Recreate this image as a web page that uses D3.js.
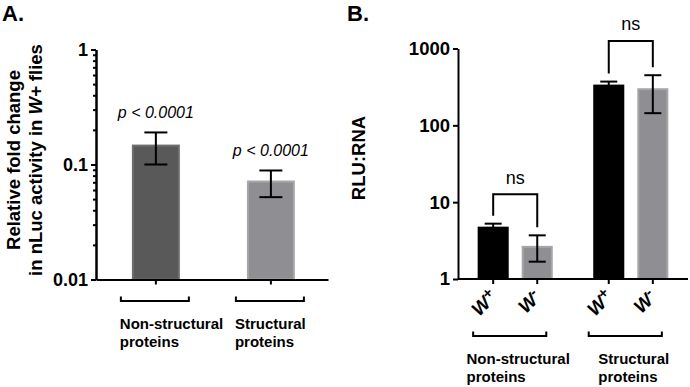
<!DOCTYPE html>
<html lang="en">
<head>
<meta charset="UTF-8" />
<title>nLuc activity – W+ vs W-</title>
<script src="https://d3js.org/d3.v7.min.js"></script>
<style>
  body { margin: 0; background: #fff; }
  svg { display: block; background: #fff; font-family: "Liberation Sans", Arial, Helvetica, sans-serif; }
  .axis path, .axis line { stroke: #000; stroke-width: 2; }
  .axis text { font-weight: bold; fill: #000; }
</style>
</head>
<body>
<svg width="690" height="387"></svg>
<script>
// ---- Panel A data ----
const catsA = ['Non-structural', 'Structural'];
const meanA = [0.149, 0.0726];
const errHiA = [0.19, 0.0887];
const errLoA = [0.10, 0.052];
const pLabelA = ['p < 0.0001', 'p < 0.0001'];
const ticksA = [0.01, 0.1, 1];
const tickLabelsA = ['0.01', '0.1', '1'];

// ---- Panel B data ----
const groupsB = ['Non-structural', 'Structural'];
const strainsB = ['W+', 'W-'];
const meanB = [[4.8, 2.7], [339, 304]];
const errHiB = [[5.25, 3.7], [371, 449]];
const errLoB = [[4.4, 1.68], [310, 144]];
const nsLevelB = [12.7, 1256];
const ticksB = [1, 10, 100, 1000];

const svg = d3.select('svg');

// ================= Panel A =================
const yA = d3.scaleLog().domain([0.01, 1]).range([279.5, 49.5]);
const xA = d3.scaleBand().domain(catsA).range([96, 328])
  .paddingInner(0.583).paddingOuter(0.3).align(0.52);
const colA = ['#595959', '#8e8e93'];
const edgeA = ['#6e6e6e', '#a8a8a8'];

svg.append('text').attr('x', 2).attr('y', 21)
  .attr('font-size', 22).attr('font-weight', 'bold').text('A.');

// bars
catsA.forEach((c, i) => {
  const x0 = xA(c), w = xA.bandwidth();
  svg.append('rect')
    .attr('x', x0 + 1).attr('y', yA(meanA[i]) + 1)
    .attr('width', w - 2).attr('height', yA(0.01) - yA(meanA[i]) - 1)
    .attr('fill', colA[i]).attr('stroke', edgeA[i]).attr('stroke-width', 2);
  const cx = x0 + w / 2;
  const eb = svg.append('g').attr('stroke', '#000').attr('stroke-width', 2);
  eb.append('line').attr('x1', cx).attr('x2', cx).attr('y1', yA(errHiA[i])).attr('y2', yA(errLoA[i]));
  eb.append('line').attr('x1', cx - 11.5).attr('x2', cx + 11.5).attr('y1', yA(errHiA[i])).attr('y2', yA(errHiA[i]));
  eb.append('line').attr('x1', cx - 11.5).attr('x2', cx + 11.5).attr('y1', yA(errLoA[i])).attr('y2', yA(errLoA[i]));
  svg.append('text').attr('x', cx).attr('y', yA(errHiA[i]) - 14)
    .attr('text-anchor', 'middle').attr('font-size', 16).attr('font-style', 'italic')
    .text(pLabelA[i]);
  // bracket + label under axis
  svg.append('path')
    .attr('d', `M${cx - 35},296.5V301H${cx + 33}V296.5`)
    .attr('fill', 'none').attr('stroke', '#000').attr('stroke-width', 2);
  const t = svg.append('text').attr('x', cx - 36).attr('y', 329)
    .attr('font-size', 15).attr('font-weight', 'bold');
  t.append('tspan').attr('x', cx - 36).text(c);
  t.append('tspan').attr('x', cx - 36).attr('dy', 17.5).text('proteins');
});

// y axis A with minor ticks
const minorA = [];
[0.01, 0.1].forEach(d => { for (let k = 2; k <= 9; k++) minorA.push(d * k); });
svg.append('g').attr('class', 'axis').attr('transform', 'translate(96,0)')
  .call(d3.axisLeft(yA).tickValues(minorA).tickSize(3).tickFormat('').tickSizeOuter(0));
svg.append('g').attr('class', 'axis').attr('transform', 'translate(96,0)')
  .call(d3.axisLeft(yA).tickValues(ticksA).tickSize(5).tickPadding(3).tickSizeOuter(0)
    .tickFormat((d, i) => tickLabelsA[i]))
  .selectAll('text').attr('font-size', 18);
svg.append('g').attr('class', 'axis').attr('transform', 'translate(0,279.5)')
  .call(d3.axisBottom(xA).tickSize(5).tickSizeOuter(0).tickFormat(''));

// y label A
const labA = svg.append('text').attr('transform', 'translate(0,160) rotate(-90)')
  .attr('text-anchor', 'middle').attr('font-size', 18.5).attr('font-weight', 'bold');
labA.append('tspan').attr('x', 0).attr('y', 19.5).text('Relative fold change');
const l2 = labA.append('tspan').attr('x', 0).attr('y', 41.5);
l2.append('tspan').text('in nLuc activity in ');
l2.append('tspan').attr('font-style', 'italic').text('W+');
l2.append('tspan').text('  flies');

// ================= Panel B =================
const yB = d3.scaleLog().domain([1, 1000]).range([279, 48.5]);
const xB = d3.scaleBand().domain(groupsB).range([458, 688])
  .paddingInner(0.35).paddingOuter(0.17);
const xBi = d3.scaleBand().domain(strainsB).range([0, xB.bandwidth()])
  .paddingInner(0.295).paddingOuter(0);
const colB = ['#000000', '#8e8e93'];
const edgeB = ['#000000', '#a6a6a6'];

svg.append('text').attr('x', 347).attr('y', 21)
  .attr('font-size', 22).attr('font-weight', 'bold').text('B.');

groupsB.forEach((g, gi) => {
  const gx = xB(g);
  const centers = [];
  strainsB.forEach((s, si) => {
    const x0 = gx + xBi(s), w = xBi.bandwidth();
    const cx = x0 + w / 2;
    centers.push(cx);
    const v = meanB[gi][si];
    svg.append('rect')
      .attr('x', x0 + 1).attr('y', yB(v) + 1)
      .attr('width', w - 2).attr('height', yB(1) - yB(v) - 1)
      .attr('fill', colB[si]).attr('stroke', edgeB[si]).attr('stroke-width', 2);
    const eb = svg.append('g').attr('stroke', '#000').attr('stroke-width', 2);
    eb.append('line').attr('x1', cx).attr('x2', cx).attr('y1', yB(errHiB[gi][si])).attr('y2', yB(errLoB[gi][si]));
    eb.append('line').attr('x1', cx - 8.5).attr('x2', cx + 8.5).attr('y1', yB(errHiB[gi][si])).attr('y2', yB(errHiB[gi][si]));
    eb.append('line').attr('x1', cx - 8.5).attr('x2', cx + 8.5).attr('y1', yB(errLoB[gi][si])).attr('y2', yB(errLoB[gi][si]));
    // rotated strain label
    const lt = svg.append('text')
      .attr('transform', `translate(${cx + 5},298) rotate(-45)`)
      .attr('text-anchor', 'end').attr('font-size', 19)
      .attr('font-weight', 'bold').attr('font-style', 'italic');
    lt.append('tspan').text(s[0]);
    lt.append('tspan').attr('font-size', 15).attr('dy', -6).text(s.slice(1));
  });
  // ns bracket
  const top = yB(nsLevelB[gi]);
  const leg0 = yB(errHiB[gi][0]) - 8, leg1 = yB(errHiB[gi][1]) - 8;
  svg.append('path')
    .attr('d', `M${centers[0]},${leg0}V${top}H${centers[1]}V${leg1}`)
    .attr('fill', 'none').attr('stroke', '#000').attr('stroke-width', 2);
  svg.append('text').attr('x', (centers[0] + centers[1]) / 2).attr('y', top - 10.5)
    .attr('text-anchor', 'middle').attr('font-size', 18).text('ns');
  // group bracket + label
  const gw = xB.bandwidth();
  svg.append('path')
    .attr('d', `M${gx - 4.5},331.5V336H${gx + gw - 6.5}V331.5`)
    .attr('fill', 'none').attr('stroke', '#000').attr('stroke-width', 2);
  const t = svg.append('text').attr('y', 364)
    .attr('font-size', 15).attr('font-weight', 'bold');
  const a = t.append('tspan').text(g);
  const b = t.append('tspan').attr('dy', 17.5).text('proteins');
  const bw = Math.max(a.node().getComputedTextLength(), b.node().getComputedTextLength());
  const lx = gx + gw / 2 + 3 - bw / 2;
  a.attr('x', lx); b.attr('x', lx);
});

svg.append('g').attr('class', 'axis').attr('transform', 'translate(458,0)')
  .call(d3.axisLeft(yB).tickValues(ticksB).tickSize(5).tickPadding(3).tickSizeOuter(0)
    .tickFormat(d3.format('d')))
  .selectAll('text').attr('font-size', 18.5);
const xAxisB = svg.append('g').attr('class', 'axis').attr('transform', 'translate(0,279)');
xAxisB.append('line').attr('x1', 458).attr('x2', 688);
groupsB.forEach(g => strainsB.forEach(s => {
  const cx = xB(g) + xBi(s) + xBi.bandwidth() / 2;
  xAxisB.append('line').attr('x1', cx).attr('x2', cx).attr('y1', 0).attr('y2', 5);
}));

// y label B
svg.append('text').attr('transform', 'translate(365,158) rotate(-90)')
  .attr('text-anchor', 'middle').attr('font-size', 18.5).attr('font-weight', 'bold')
  .text('RLU:RNA');
</script>
</body>
</html>
